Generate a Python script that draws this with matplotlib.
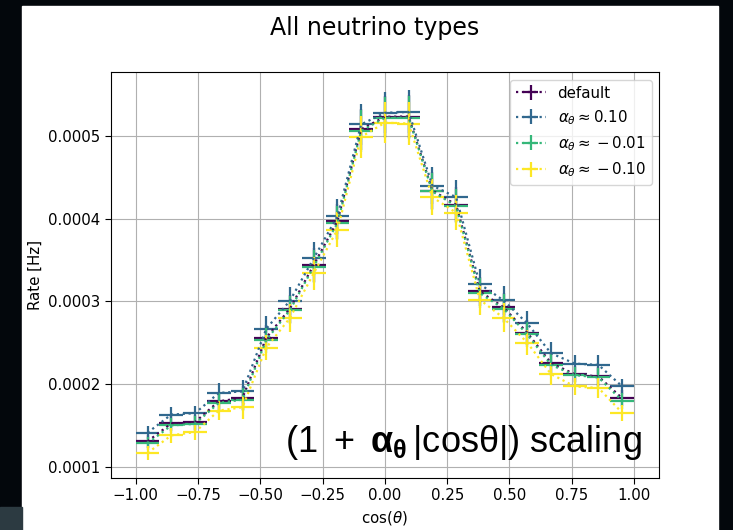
import numpy as np
import matplotlib
matplotlib.use("Agg")
import matplotlib.pyplot as plt
from matplotlib.patches import Rectangle
from matplotlib.font_manager import FontProperties

# cos(theta) binning: 21 bins over [-1, 1]
edges = np.linspace(-1, 1, 22)
centers = 0.5 * (edges[1:] + edges[:-1])
half_width = 0.5 * (edges[1] - edges[0])

# rates per bin [Hz]
rate_default = [1.308e-4, 1.524e-4, 1.540e-4, 1.792e-4, 1.833e-4, 2.560e-4, 2.913e-4,
                3.440e-4, 3.970e-4, 5.080e-4, 5.232e-4, 5.235e-4, 4.340e-4, 4.168e-4,
                3.120e-4, 2.928e-4, 2.620e-4, 2.253e-4, 2.120e-4, 2.092e-4, 1.828e-4]
rate_p010 = [1.413e-4, 1.632e-4, 1.648e-4, 1.893e-4, 1.912e-4, 2.668e-4, 3.009e-4,
             3.520e-4, 4.029e-4, 5.140e-4, 5.280e-4, 5.290e-4, 4.400e-4, 4.260e-4,
             3.208e-4, 3.012e-4, 2.733e-4, 2.373e-4, 2.248e-4, 2.232e-4, 1.972e-4]
rate_m001 = [1.284e-4, 1.500e-4, 1.520e-4, 1.773e-4, 1.812e-4, 2.532e-4, 2.896e-4,
             3.420e-4, 3.948e-4, 5.061e-4, 5.220e-4, 5.222e-4, 4.329e-4, 4.152e-4,
             3.100e-4, 2.913e-4, 2.600e-4, 2.232e-4, 2.109e-4, 2.080e-4, 1.800e-4]
rate_m010 = [1.168e-4, 1.380e-4, 1.420e-4, 1.680e-4, 1.720e-4, 2.440e-4, 2.800e-4,
             3.340e-4, 3.868e-4, 4.989e-4, 5.160e-4, 5.150e-4, 4.260e-4, 4.072e-4,
             3.021e-4, 2.800e-4, 2.500e-4, 2.121e-4, 1.972e-4, 1.953e-4, 1.653e-4]
rate_err = [0.80e-5, 0.90e-5, 0.90e-5, 1.15e-5, 1.40e-5, 1.50e-5, 1.70e-5,
            2.00e-5, 2.10e-5, 2.50e-5, 2.50e-5, 2.60e-5, 2.20e-5, 2.10e-5,
            1.80e-5, 1.75e-5, 1.50e-5, 1.30e-5, 1.00e-5, 1.15e-5, 0.95e-5]

labels = ["default", r"$\alpha_\theta \approx 0.10$",
          r"$\alpha_\theta \approx -0.01$", r"$\alpha_\theta \approx -0.10$"]
series = [rate_default, rate_p010, rate_m001, rate_m010]
colors = plt.cm.viridis(np.linspace(0, 1, len(series)))

plt.rcParams["mathtext.rm"] = "Liberation Sans"
plt.rcParams["mathtext.bf"] = "Liberation Sans:bold"
plt.rcParams["mathtext.it"] = "Liberation Sans:italic"

W, H = 733, 530
fig = plt.figure(figsize=(W / 100, H / 100), dpi=100)
fig.patch.set_facecolor("#03070c")
# white slide panel and the grey corner
fig.patches.append(Rectangle((22 / W, 0), (718 - 22) / W, (H - 6) / H,
                             transform=fig.transFigure, color="white", zorder=-2))
fig.patches.append(Rectangle((0, 0), 22 / W, 23 / H,
                             transform=fig.transFigure, color="#2c3a41", zorder=-2))

ax = fig.add_axes([110.8 / W, (H - 478) / H, (659 - 110.8) / W, (478 - 72) / H])
for y, lab, c in zip(series, labels, colors):
    ax.errorbar(centers, y, xerr=half_width, yerr=rate_err, ls=":", lw=1.6,
                color=c, label=lab)

ax.grid(True)
ax.set_xlabel(r"cos($\theta$)", fontsize=10.8)
ax.set_ylabel("Rate [Hz]", fontsize=10.8)
ax.tick_params(labelsize=10.8, length=4)
ax.legend(fontsize=10.8, loc="upper right")

fig.text(375 / W, (H - 28) / H, "All neutrino types", fontsize=17,
         ha="center", va="center")

fp = FontProperties(family="Liberation Sans", size=26, math_fontfamily="custom")
fig.text(285 / W, (H - 452) / H,
         r"$\mathrm{(1\ +\ }\mathbf{α_θ}\mathrm{\,|cosθ|)\ scaling}$",
         fontproperties=fp, ha="left", va="baseline", zorder=10)

fig.savefig("out.png", dpi=100, facecolor=fig.get_facecolor())
